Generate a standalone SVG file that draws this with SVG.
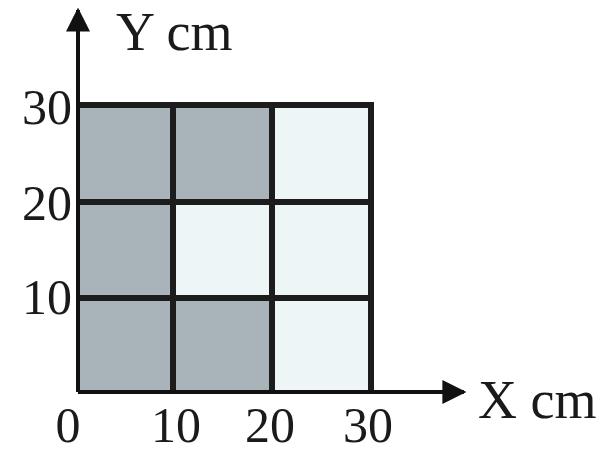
<svg xmlns="http://www.w3.org/2000/svg" width="614" height="454" viewBox="0 0 614 454">
<style>
.dark{fill:#a9b3ba}
.light{fill:#eef5f7}
.grid{stroke:#1c1c1c;stroke-width:6;fill:none}
.axis{stroke:#111;stroke-width:4;fill:none}
text{font-family:"Liberation Serif","Times New Roman",serif;fill:#1a1a1a}
.tick{font-size:50px}
.lab{font-size:54px}
</style>
<defs>
<marker id="ah" viewBox="0 0 10 10" refX="9" refY="5" markerWidth="6" markerHeight="6" orient="auto" markerUnits="strokeWidth">
<path d="M0,0 L10,5 L0,10 z" fill="#111"/>
</marker>
</defs>
<g id="cells">
<rect class="dark" x="78" y="105" width="95" height="97"/>
<rect class="dark" x="173" y="105" width="99" height="97"/>
<rect class="light" x="272" y="105" width="99" height="97"/>
<rect class="dark" x="78" y="202" width="95" height="96"/>
<rect class="light" x="173" y="202" width="99" height="96"/>
<rect class="light" x="272" y="202" width="99" height="96"/>
<rect class="dark" x="78" y="298" width="95" height="94"/>
<rect class="dark" x="173" y="298" width="99" height="94"/>
<rect class="light" x="272" y="298" width="99" height="94"/>
</g>
<g id="grid">
<path class="grid" d="M78,105 H371 V392 M78,202 H371 M78,298 H371 M173,105 V392 M272,105 V392"/>
</g>
<g id="connectors">
<line class="axis" x1="78" y1="392" x2="78" y2="10" marker-end="url(#ah)"/>
<line class="axis" x1="78" y1="392" x2="464" y2="392" marker-end="url(#ah)"/>
</g>
<g id="labels">
<text class="lab" x="116" y="50">Y cm</text>
<text class="lab" x="478" y="418">X cm</text>
<text class="tick" x="72" y="124" text-anchor="end">30</text>
<text class="tick" x="72" y="220" text-anchor="end">20</text>
<text class="tick" x="72" y="314" text-anchor="end">10</text>
<text class="tick" x="68" y="442" text-anchor="middle">0</text>
<text class="tick" x="176" y="442" text-anchor="middle">10</text>
<text class="tick" x="270" y="442" text-anchor="middle">20</text>
<text class="tick" x="368" y="442" text-anchor="middle">30</text>
</g>
</svg>
